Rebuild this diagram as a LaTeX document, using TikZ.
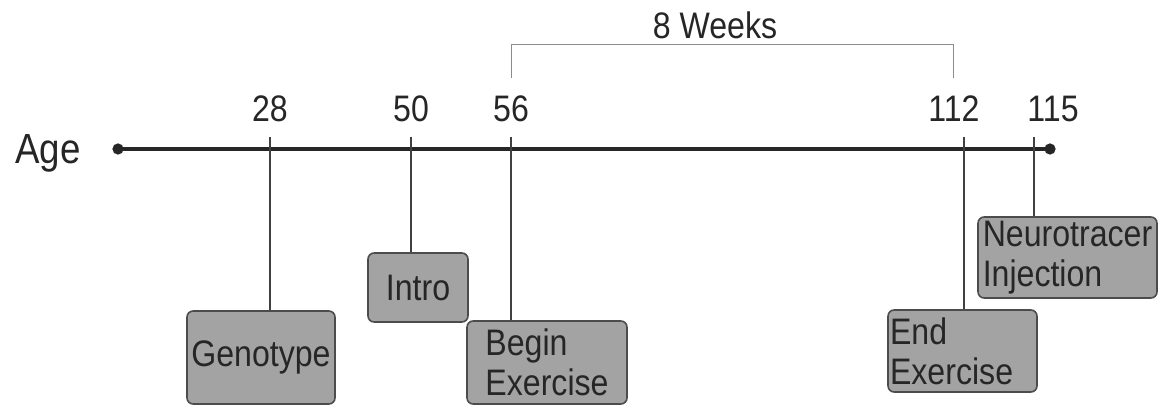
\documentclass[tikz,border=0pt]{standalone}
\usepackage{fontspec}
\setmainfont[FakeStretch=0.87]{Liberation Sans}
\usetikzlibrary{positioning}
\tikzset{
  stage/.style={draw=black!70,line width=0.9pt,fill=black!36,rounded corners=3.5pt,align=left,inner sep=1pt,text=black!85},
  tick/.style={black!75,line width=0.6pt},
  age/.style={inner sep=0pt,text=black!85}
}
\begin{document}
\begin{tikzpicture}[x=0.02cm,y=0.02cm,font=\fontsize{21}{22.8}\selectfont]
	\useasboundingbox (0,0) rectangle (1165,406);
	% time axis
	\coordinate (a0) at (118,257);
	\coordinate (a1) at (1050,257);
	\draw[line width=2.2pt,black!85] (a0) -- (a1);
	\fill[black!85] (a0) circle (3.2pt) (a1) circle (3.2pt);
	\node[age,font=\fontsize{24}{28}\selectfont,left=0.74cm of a0,yshift=-0.08cm] (agelbl) {Age};
	\coordinate (t28) at (270,269);
	\coordinate (t50) at (411,269);
	\coordinate (t56) at (511,269);
	\coordinate (t112) at (964,269);
	\coordinate (t115) at (1034,269);
	\node[age] (n28) at (270,297) {28};
	\node[age] (n50) at (411,297) {50};
	\node[age] (n56) at (511,297) {56};
	\node[age] (n112) at (954,297) {112};
	\node[age] (n115) at (1053,297) {115};
	% stages
	\node[stage,minimum width=2.96cm,minimum height=1.86cm] (geno) at (261,48.5) {Genotype};
	\node[stage,minimum width=2cm,minimum height=1.38cm] (intro) at (418,118.5) {Intro};
	\node[stage,minimum width=3.2cm,minimum height=1.66cm] (begin) at (547,43.5) {Begin\\Exercise};
	\node[stage,minimum width=2.98cm,minimum height=1.64cm,text width=2.9cm] (end) at (962.5,55) {End\\Exercise};
	\node[stage,minimum width=3.58cm,minimum height=1.62cm] (tracer) at (1067.5,148.5) {Neurotracer\\Injection};
	\draw[tick] (t28) -- (t28 |- geno.north);
	\draw[tick] (t50) -- (t50 |- intro.north);
	\draw[tick] (t56) -- (t56 |- begin.north);
	\draw[tick] (t112) -- (t112 |- end.north);
	\draw[tick] (t115) -- (t115 |- tracer.north);
	% 8 weeks bracket
	\coordinate (w0) at (511,328);
	\coordinate (w1) at (953,328);
	\draw[black!45,line width=0.5pt] (w0) -- ++(0,34) -| (w1);
	\node[age] (weeks) at (715,381) {8 Weeks};
\end{tikzpicture}
\end{document}
